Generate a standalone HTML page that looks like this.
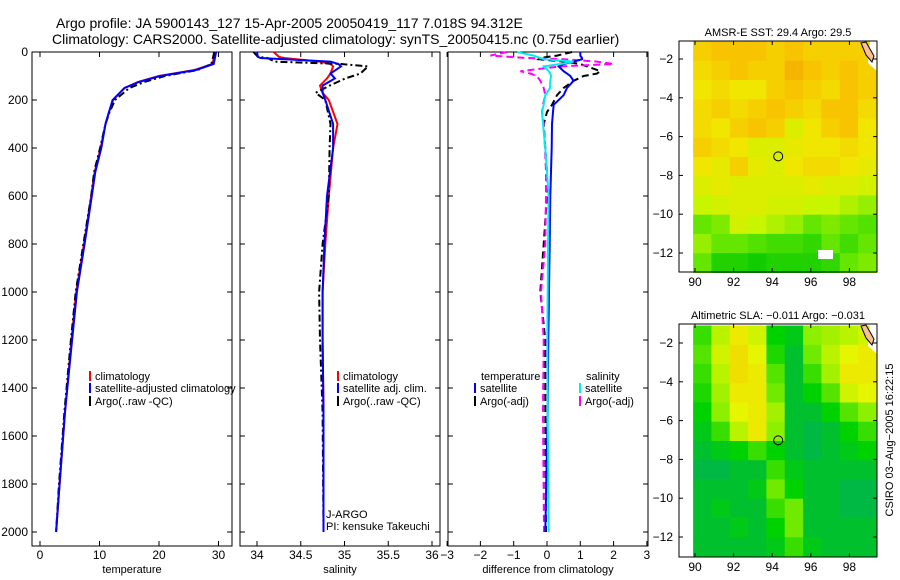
<!DOCTYPE html>
<html><head><meta charset="utf-8"><style>
body{margin:0;background:#fff}
svg{display:block;font-family:"Liberation Sans",sans-serif}
</style></head><body>
<svg id="c" width="900" height="580">
<text x="56" y="28" font-size="14">Argo profile: JA 5900143_127 15-Apr-2005 20050419_117 7.018S 94.312E</text>
<text x="52" y="44" font-size="14">Climatology: CARS2000. Satellite-adjusted climatology: synTS_20050415.nc (0.75d earlier)</text>
</svg>
<script>
const depthTicks=[0,200,400,600,800,1000,1200,1400,1600,1800,2000];
const tempTicks=[0,10,20,30];
const salTicks=[34,34.5,35,35.5,36];
const difTicks=[-3,-2,-1,0,1,2,3];
const lonTicks=[90,92,94,96,98];
const latTicks=[-2,-4,-6,-8,-10,-12];

const tDepth=[0,50,75,100,125,150,200,250,300,400,500,600,800,1000,1200,1500,1800,2000];
const tClim=[29.4,29,26,20,16.5,14.2,12.3,11.6,11,10.2,9.2,8.6,7.4,6.1,5.3,4.2,3.3,2.7];
const tSat=[29.6,29.2,26.2,20.2,16.6,14.2,12.2,11.6,11,10.3,9.3,8.7,7.5,6.2,5.4,4.2,3.3,2.7];
const tArgo=[29.3,28.8,26.5,21,17.5,15,12.6,11.7,11,10.1,9.1,8.6,7.3,6,5.2,4.1,3.2,2.7];

const sDepth=[0,20,25,40,50,60,90,110,140,170,200,300,400,600,800,1000,1200,1500,2000];
const sClim=[34.19,34.25,34.31,34.72,34.84,34.87,34.84,34.8,34.72,34.75,34.82,34.92,34.87,34.82,34.78,34.75,34.75,34.76,34.76];
const sSat=[34.0,34.01,34.04,34.84,34.93,34.96,34.84,34.89,34.75,34.75,34.78,34.87,34.87,34.8,34.77,34.75,34.75,34.76,34.76];
const sArgo=[33.96,34.01,34.12,34.2,34.96,35.27,35.18,35.01,34.83,34.67,34.78,34.84,34.83,34.82,34.75,34.71,34.72,34.75,34.76];

const dDepth=[0,15,25,30,40,50,60,80,90,100,120,150,180,220,250,300,400,500,600,800,1000,1200,1500,2000];
const dTsat=[1.0,1.0,1.05,1.05,0.8,0.5,0.35,0.5,0.6,0.7,0.8,0.6,0.5,0.2,0.18,0.15,0.14,0.12,0.1,0.08,0.06,0.04,0.02,-0.05];
const dTargo=[0.75,0.3,-0.2,-0.25,0.5,1.0,1.2,1.6,1.5,1.1,0.8,0.5,0.3,0.15,0.0,-0.1,-0.05,0.0,0.0,-0.1,-0.2,-0.05,-0.05,-0.03];
const dSsat=[-0.9,-0.4,-0.2,-0.1,0.8,0.4,-0.1,0.05,0.1,0.12,0.1,0.09,-0.05,-0.1,-0.15,-0.12,-0.05,0.0,0.05,0.03,0.02,0.01,0.02,0.05];
const dSargo=[-1.2,-1.7,-0.6,0.5,1.5,2.0,0.4,-0.8,-0.5,-0.3,-0.2,-0.1,-0.05,-0.12,-0.15,-0.1,-0.06,-0.03,-0.03,-0.05,-0.18,-0.1,-0.12,-0.09];

const sstGrid=[
[.8,.85,.85,.85,.8,.85,.8,.8,.8,.8],
[.75,.8,.85,.8,.8,.9,.85,.8,.85,.8],
[.7,.75,.7,.7,.8,.85,.8,.75,.85,.8],
[.75,.8,.75,.8,.85,.8,.75,.85,.85,.75],
[.75,.7,.8,.85,.8,.6,.7,.8,.85,.7],
[.8,.75,.7,.6,.6,.65,.7,.7,.75,.7],
[.7,.65,.8,.65,.6,.7,.75,.75,.7,.65],
[.6,.65,.6,.6,.6,.6,.65,.6,.6,.55],
[.5,.55,.6,.6,.55,.55,.5,.5,.45,.4],
[.3,.35,.55,.5,.45,.4,.3,.35,.3,.25],
[.4,.3,.3,.25,.2,.2,.15,.3,.2,.3],
[.3,.1,.1,.05,.1,.1,.1,.15,.3,.35]];
const slaGrid=[
[.3,.55,.7,.6,.2,.15,.45,.5,.55,.6],
[.35,.6,.75,.65,.25,.1,.4,.55,.65,.7],
[.3,.55,.75,.7,.35,.1,.3,.5,.7,.7],
[.25,.5,.7,.7,.4,.1,.2,.35,.6,.65],
[.2,.45,.65,.7,.5,.1,.1,.2,.35,.45],
[.15,.3,.55,.7,.45,.1,.05,.1,.2,.3],
[.1,.15,.2,.3,.2,.1,.05,.1,.15,.2],
[.05,.05,.1,.1,.3,.15,.1,.1,.1,.1],
[.1,.1,.1,.15,.4,.2,.1,.1,.05,.05],
[.1,.15,.1,.1,.3,.4,.1,.1,.05,.05],
[.1,.1,.15,.1,.2,.4,.1,.1,.1,.1],
[.1,.1,.1,.1,.15,.3,.15,.1,.1,.1]];

const NS='http://www.w3.org/2000/svg';
const svg=document.getElementById('c');
function mk(tag,attrs,parent){const e=document.createElementNS(NS,tag);for(const k in attrs)e.setAttribute(k,attrs[k]);(parent||svg).appendChild(e);return e;}
function txt(x,y,s,size,anchor,parent){const t=mk('text',{x:x,y:y,'font-size':size,'text-anchor':anchor||'start'},parent);t.textContent=s;return t;}

const yTop=52,yBot=546;
const yD=d=>yTop+d*0.24;

function panel(name,x0,x1,xs,ticks,tlabels,xlabel){
  const g=mk('g',{});
  
  
  const r=mk('rect',{x:x0,y:yTop,width:x1-x0,height:yBot-yTop,fill:'none',stroke:'#000','stroke-width':1},g);
  
  
  depthTicks.forEach(d=>{mk('line',{x1:x0,x2:x0+5,y1:yD(d),y2:yD(d),stroke:'#000'},g);mk('line',{x1:x1-5,x2:x1,y1:yD(d),y2:yD(d),stroke:'#000'},g);});
  ticks.forEach((v,i)=>{const x=xs(v);mk('line',{x1:x,x2:x,y1:yTop,y2:yTop+5,stroke:'#000'},g);mk('line',{x1:x,x2:x,y1:yBot-5,y2:yBot,stroke:'#000'},g);
    const l=txt(x,559,tlabels[i],12,'middle',g);
    
    });
  const xl=txt((x0+x1)/2,573,xlabel,11,'middle',g);
  
  
  return g;
}
function line(g,name,xs,ds,vs,color,dash,w){
  const p=mk('polyline',{points:ds.map((d,i)=>xs(vs[i]).toFixed(1)+','+yD(d).toFixed(1)).join(' '),fill:'none',stroke:color,'stroke-width':w||2,'stroke-dasharray':dash||'none'},g);
  
  
}
function legend(g,x,y,color,label,name){
  const b=mk('line',{x1:x,x2:x,y1:y-9,y2:y+1,stroke:color,'stroke-width':2},g);
  
  
  const t=txt(x+5,y,label,11,'start',g);
  
  
}
depthTicks.forEach(d=>{const t=txt(28,yD(d)+4,String(d),12,'end');
  
  });

const xT=v=>40+v*5.95;
const g1=panel('temperature-panel',32,232,xT,tempTicks,tempTicks.map(v=>String(v)),'temperature');
line(g1,'temperature-climatology',xT,tDepth,tClim,'#f00');
line(g1,'temperature-argo',xT,tDepth,tArgo,'#000','7,3,2,3');
line(g1,'temperature-satellite',xT,tDepth,tSat,'#00f');
legend(g1,90,380,'#f00','climatology','legend-climatology');
legend(g1,90,392,'#00f','satellite-adjusted climatology','legend-satellite');
legend(g1,90,405,'#000','Argo(..raw -QC)','legend-argo');

const xS=v=>257+(v-34)*87.5;
const g2=panel('salinity-panel',240,440,xS,salTicks,['34','34.5','35','35.5','36'],'salinity');
line(g2,'salinity-climatology',xS,sDepth,sClim,'#f00');
line(g2,'salinity-argo',xS,sDepth,sArgo,'#000','7,3,2,3');
line(g2,'salinity-satellite',xS,sDepth,sSat,'#00f');
legend(g2,338,380,'#f00','climatology','legend-sal-climatology');
legend(g2,338,392,'#00f','satellite adj. clim.','legend-sal-satellite');
legend(g2,338,405,'#000','Argo(..raw -QC)','legend-sal-argo');
const j1=txt(326,518,'J-ARGO',11,'start',g2);
const j2=txt(326,530,'PI: kensuke Takeuchi',11,'start',g2);

const xF=v=>547+v*33.3;
const g3=panel('difference-panel',448,648,xF,difTicks,difTicks.map(v=>v<0?'\u2212'+(-v):String(v)),'difference from climatology');
line(g3,'temp-diff-argo',xF,dDepth,dTargo,'#000','7,4');
line(g3,'sal-diff-argo',xF,dDepth,dSargo,'#f0f','7,4');
line(g3,'temp-diff-satellite',xF,dDepth,dTsat,'#00f');
line(g3,'sal-diff-satellite',xF,dDepth,dSsat,'#0ee');
const th=txt(481,380,'temperature',11,'start',g3);
legend(g3,475,392,'#00f','satellite','legend-temp-satellite');
legend(g3,475,405,'#000','Argo(-adj)','legend-temp-argo');
const sh=txt(586,380,'salinity',11,'start',g3);
legend(g3,580,392,'#0ee','satellite','legend-sal-satellite-diff');
legend(g3,580,405,'#f0f','Argo(-adj)','legend-sal-argo-diff');

function cmap(v,teal){
  const stops=teal?[[0,[0,176,90]],[0.2,[0,210,0]],[0.45,[140,240,0]],[0.65,[230,245,0]],[0.85,[248,200,0]],[1,[240,150,0]]]
                  :[[0,[0,200,0]],[0.3,[100,230,0]],[0.5,[200,245,0]],[0.7,[240,230,0]],[0.85,[248,195,0]],[1,[240,150,0]]];
  for(let i=1;i<stops.length;i++){if(v<=stops[i][0]){const a=stops[i-1],b=stops[i],t=(v-a[0])/(b[0]-a[0]);
    return 'rgb('+a[1].map((c,k)=>Math.round(c+(b[1][k]-c)*t)).join(',')+')';}}
  return 'rgb(240,150,0)';
}
function drawMap(name,boxTop,boxBot,lat2y,lat12y,grid,title,teal){
  const g=mk('g',{});
  
  
  const x0=679,x1=877;
  const xL=lon=>695+(lon-90)*19.3;
  const pl=(lat12y-lat2y)/10;
  const yL=lat=>lat2y+(-2-lat)*pl;
  const lonA=89.9,lonB=99.4,latA=-1.1,latB=-13.0;
  const rows=grid.length,cols=grid[0].length;
  const cw=(xL(lonB)-xL(lonA))/cols,ch=(yL(latB)-yL(latA))/rows;
  grid.forEach((row,r)=>row.forEach((v,c)=>{
    const cell=mk('rect',{x:(xL(lonA)+c*cw).toFixed(1),y:(yL(latA)+r*ch).toFixed(1),width:(cw+0.6).toFixed(1),height:(ch+0.6).toFixed(1),fill:cmap(v,teal)},g);
    
    
  }));
  mk('polygon',{points:[[870,boxTop],[877,boxTop],[877,boxTop+30],[868,boxTop+22]].map(p=>p.join(',')).join(' '),fill:'#fff'},g);
  const land=mk('path',{d:`M861 ${boxTop+2} L866 ${boxTop+1} L874 ${boxTop+15} L872 ${boxTop+21} L866 ${boxTop+14} Z`,fill:'#f8c090',stroke:'#000','stroke-width':1},g);
  
  
  mk('rect',{x:x0,y:boxTop,width:x1-x0,height:boxBot-boxTop,fill:'none',stroke:'#000'},g);
  lonTicks.forEach(l=>{const x=xL(l);mk('line',{x1:x,x2:x,y1:boxTop,y2:boxTop+4,stroke:'#000'},g);mk('line',{x1:x,x2:x,y1:boxBot-4,y2:boxBot,stroke:'#000'},g);
    const t=txt(x,boxBot+14,String(l),12,'middle',g);});
  latTicks.forEach(l=>{const y=yL(l);mk('line',{x1:x0,x2:x0+4,y1:y,y2:y,stroke:'#000'},g);mk('line',{x1:x1-4,x2:x1,y1:y,y2:y,stroke:'#000'},g);
    const t=txt(x0-6,y+4,'\u2212'+(-l),12,'end',g);});
  const c=mk('circle',{cx:xL(94.312),cy:yL(-7.018),r:4.5,fill:'none',stroke:'#000','stroke-width':1},g);
  
  
  const tt=txt(778,boxTop-5,title,11,'middle',g);
  
  
}
drawMap('sst-map',41,272,59,253,sstGrid,'AMSR-E SST: 29.4 Argo: 29.5',false);
const wg=mk('rect',{x:818,y:250,width:15,height:9,fill:'#fff'});


drawMap('sla-map',324,557,343,537,slaGrid,'Altimetric SLA: \u22120.011 Argo: \u22120.031',true);
const cs=txt(0,0,'CSIRO 03\u2212Aug\u22122005 16:22:15',11,'middle');
cs.setAttribute('transform','translate(893,440) rotate(-90)');


</script>
</body></html>
